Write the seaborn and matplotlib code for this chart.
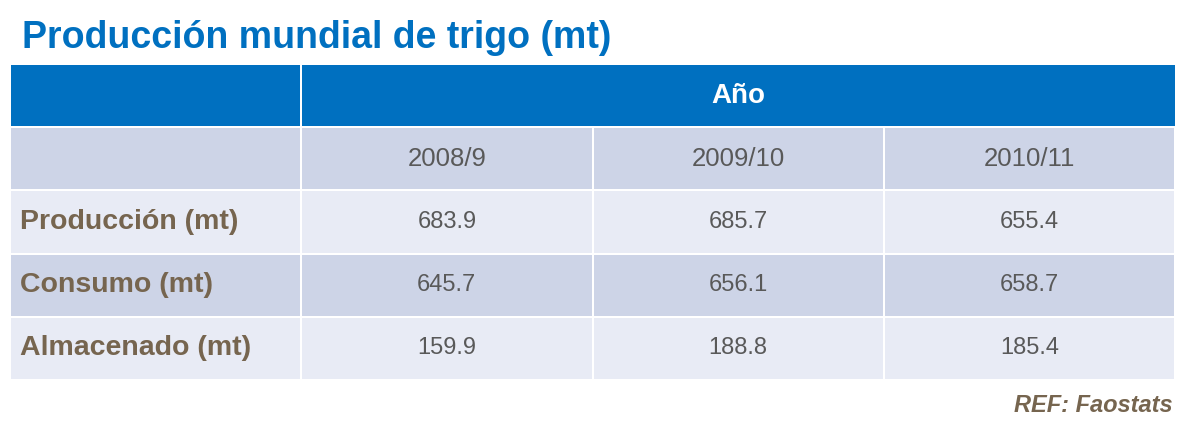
import matplotlib
matplotlib.use("Agg")
import matplotlib.pyplot as plt
from matplotlib.colors import ListedColormap
from matplotlib.patches import Rectangle
import seaborn as sns
import numpy as np

title = "Producción mundial de trigo (mt)"
header = "Año"
years = ["2008/9", "2009/10", "2010/11"]
row_labels = ["Producción (mt)", "Consumo (mt)", "Almacenado (mt)"]
values = [
    [683.9, 685.7, 655.4],
    [645.7, 656.1, 658.7],
    [159.9, 188.8, 185.4],
]
source = "REF: Faostats"

BLUE = "#0070C0"
DARK = "#CDD4E7"
LIGHT = "#E8EBF5"
LABEL = "#76654F"
TEXT = "#595959"

sns.set_theme(style="white")
plt.rcParams["font.family"] = ["Liberation Sans", "DejaVu Sans"]

# colour index per cell: 0 header, 1 dark band, 2 light band
n_rows = len(row_labels) + 2
shade = np.zeros((n_rows, 4))
shade[1, :] = 1
for i in range(len(row_labels)):
    shade[i + 2, :] = 2 if i % 2 == 0 else 1

fig = plt.figure(figsize=(11.9, 4.33), dpi=100)
ax = fig.add_axes([10 / 1190, 53 / 433, 1165 / 1190, 316 / 433])
sns.heatmap(shade, cmap=ListedColormap([BLUE, DARK, LIGHT]), vmin=0, vmax=2,
            cbar=False, linewidths=1.2, linecolor="white", ax=ax)
ax.set_xticks([])
ax.set_yticks([])
# merge header cells over the year columns
ax.add_patch(Rectangle((1.004, 0.02), 2.996, 0.96, color=BLUE, lw=0))

ax.text(2.5, 0.5, header, ha="center", va="center", color="white",
        fontsize=20, fontweight="bold")
for j, y in enumerate(years):
    ax.text(j + 1.5, 1.5, y, ha="center", va="center", color=TEXT, fontsize=18.5)
for i, (lab, row) in enumerate(zip(row_labels, values)):
    ax.text(0.035, i + 2.5, lab, ha="left", va="center", color=LABEL,
            fontsize=20.5, fontweight="bold")
    for j, v in enumerate(row):
        ax.text(j + 1.5, i + 2.5, f"{v:.1f}", ha="center", va="center",
                color=TEXT, fontsize=17)

fig.text(22 / 1190, 1 - 38 / 433, title, ha="left", va="center", color=BLUE,
         fontsize=27, fontweight="bold")
fig.text(1173 / 1190, 1 - 405 / 433, source, ha="right", va="center",
         color=LABEL, fontsize=17, fontweight="bold", style="italic")

fig.savefig("out.png", dpi=100)
plt.close(fig)
